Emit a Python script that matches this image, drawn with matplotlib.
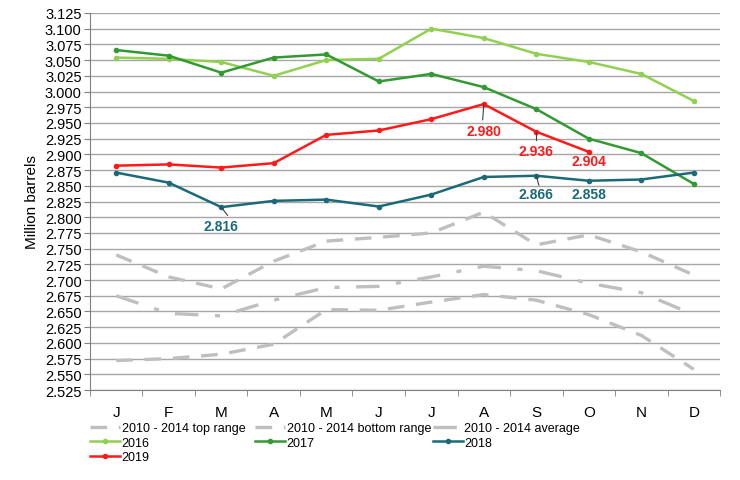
import numpy as np
import matplotlib.pyplot as plt

months = ['J', 'F', 'M', 'A', 'M', 'J', 'J', 'A', 'S', 'O', 'N', 'D']
top_range = [2.740, 2.705, 2.686, 2.730, 2.762, 2.768, 2.775, 2.808, 2.756, 2.772, 2.745, 2.708]
bottom_range = [2.572, 2.575, 2.582, 2.598, 2.653, 2.652, 2.665, 2.677, 2.668, 2.645, 2.612, 2.558]
average = [2.675, 2.647, 2.643, 2.668, 2.688, 2.690, 2.705, 2.722, 2.715, 2.695, 2.680, 2.645]
y2016 = [3.054, 3.052, 3.047, 3.025, 3.050, 3.052, 3.100, 3.085, 3.060, 3.047, 3.028, 2.985]
y2017 = [3.066, 3.057, 3.030, 3.054, 3.059, 3.016, 3.028, 3.007, 2.972, 2.925, 2.902, 2.853]
y2018 = [2.871, 2.855, 2.816, 2.826, 2.828, 2.817, 2.836, 2.864, 2.866, 2.858, 2.860, 2.871]
y2019 = [2.882, 2.884, 2.879, 2.886, 2.931, 2.938, 2.956, 2.980, 2.936, 2.904]

plt.rcParams['font.family'] = ['Liberation Sans Narrow', 'Liberation Sans', 'DejaVu Sans']

fig = plt.figure(figsize=(7.4, 4.81), dpi=100)
ax = fig.add_axes([0.1216, 0.187, 0.973 - 0.1216, 0.971 - 0.187])

x = np.arange(12)
grey = '#BFBFBF'
teal = '#1B6A78'
red = '#FF1A1A'
h_top, = ax.plot(x, top_range, color=grey, lw=2.4, dashes=(5, 3.5), label='2010 - 2014 top range')
h_bot, = ax.plot(x, bottom_range, color=grey, lw=2.4, dashes=(5, 3.5), label='2010 - 2014 bottom range')
h_avg, = ax.plot(x, average, color=grey, lw=2.4, dashes=(7, 5, 1.5, 5), label='2010 - 2014 average')
h16, = ax.plot(x, y2016, color='#92D050', lw=1.8, marker='o', ms=3, label='2016')
h17, = ax.plot(x, y2017, color='#339933', lw=1.8, marker='o', ms=3, label='2017')
h18, = ax.plot(x, y2018, color=teal, lw=1.8, marker='o', ms=3, label='2018')
h19, = ax.plot(x[:len(y2019)], y2019, color=red, lw=1.8, marker='o', ms=3, label='2019')

# (index, value, text, colour, label offset, leader end (dx, dy) or None)
ann = [(2, y2018[2], '2.816', teal, -0.030, (0.12, -0.013)),
       (7, y2019[7], '2.980', red, -0.043, (-0.02, -0.025)),
       (8, y2019[8], '2.936', red, -0.030, (0.0, -0.013)),
       (9, y2019[9], '2.904', red, -0.015, None),
       (8, y2018[8], '2.866', teal, -0.029, (0.05, -0.015)),
       (9, y2018[9], '2.858', teal, -0.021, None)]
for i, v, s, c, dy, lead in ann:
    ax.text(i, v + dy, s, color=c, fontsize=10, fontweight='bold', ha='center', va='center')
    if lead:
        ax.plot([i, i + lead[0]], [v, v + lead[1]], color='#404040', lw=0.8)

ax.set_xlim(-0.5, 11.5)
ax.set_ylim(2.525, 3.125)
yt = np.arange(2.525, 3.126, 0.025)
ax.set_yticks(yt)
ax.set_yticklabels([f'{t:.3f}' for t in yt], fontsize=10.5)
ax.set_xticks(x)
ax.set_xticklabels(months, fontsize=11)
ax.set_xticks(np.arange(-0.5, 12, 1), minor=True)
ax.tick_params(axis='x', which='major', length=0, pad=11)
ax.tick_params(axis='x', which='minor', length=4, color='#808080')
ax.tick_params(axis='y', length=4, color='#808080', pad=2)
ax.grid(axis='y', color='#A6A6A6', lw=1)
ax.set_axisbelow(True)
for sp in ['top', 'right']:
    ax.spines[sp].set_visible(False)
for sp in ['left', 'bottom']:
    ax.spines[sp].set_color('#808080')
ax.set_ylabel('Million barrels', fontsize=11, labelpad=4)

cols = [([h_top, h16, h19], 0.122), ([h_bot, h17], 0.345), ([h_avg, h18], 0.585)]
for hs, xa in cols:
    fig.legend(handles=hs, loc='upper left', bbox_to_anchor=(xa, 0.12), ncol=1,
               frameon=False, fontsize=9, handlelength=2.4, handletextpad=0.1,
               labelspacing=0.2, borderaxespad=0, borderpad=0)

fig.savefig('out.png', dpi=100)
